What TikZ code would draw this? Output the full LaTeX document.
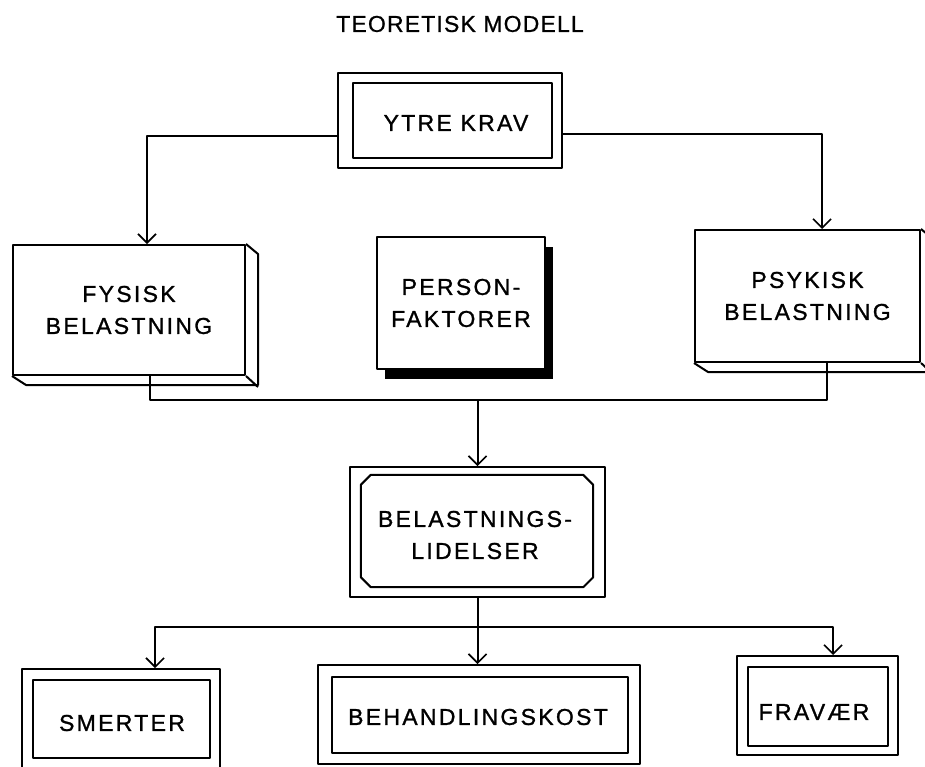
\documentclass[tikz,border=0pt]{standalone}
\usepackage{fontspec}
\setmainfont{Liberation Sans}
\newfontfamily\boxfont[LetterSpace=10,FakeBold=1.1]{Liberation Sans}
\newfontfamily\headfont[LetterSpace=5,FakeBold=0.8]{Liberation Sans}
\usetikzlibrary{arrows.meta,calc,shadows}

\begin{document}
\begin{tikzpicture}[x=1pt,y=-1pt,
  ln/.style={line width=2pt, line join=round},
  arr/.style={ln, -{Straight Barb[length=9pt,width=18pt,line width=1.6pt]}},
  frame/.style={ln, draw, rectangle, inner sep=0pt},
  txt/.style={font=\boxfont\fontsize{23}{32}\selectfont, align=center, inner sep=0pt},
]
\useasboundingbox (0,0) rectangle (925,766);
\clip (0,0) rectangle (925,766);
\fill[white] (0,0) rectangle (925,766);

% heading
\node[font=\headfont\fontsize{23}{30}\selectfont, inner sep=0pt] (title) at (460,24) {TEORETISK MODELL};

% external demands: double frame
\node[frame, minimum width=224pt, minimum height=95pt] (ytre) at (450,120.5) {};
\node[frame, minimum width=199pt, minimum height=75pt] (ytrein) at (452.5,120.5) {};
\node[txt] (ytretxt) at (456,123) {YTRE KRAV};

% physical load: box with depth
\node[frame, txt, minimum width=232pt, minimum height=130pt] (fys) at (129,310) {FYSISK\\BELASTNING};
\draw[ln] (fys.north east) -- ++(12,10) -- ++(0,131) -- ++(-232,0) -- (fys.south west);
\draw[ln] (fys.south east) -- ++(12,11);

% personal factors: box with solid shadow
\node[frame, txt, fill=white, minimum width=168pt, minimum height=132pt,
  drop shadow={shadow xshift=8pt, shadow yshift=-10pt, opacity=1, fill=black, draw=none}]
  (pers) at (461,303) {PERSON-\\FAKTORER};

% psychological load: box with depth
\node[frame, txt, minimum width=225pt, minimum height=132pt] (psy) at (807.5,296) {PSYKISK\\BELASTNING};
\draw[ln] (psy.north east) -- ++(12,10) -- ++(0,133) -- ++(-225,0) -- (psy.south west);
\draw[ln] (psy.south east) -- ++(12,11);

% strain disorders: frame around a chamfered box
\node[frame, minimum width=255pt, minimum height=130pt] (bel) at (477.5,532) {};
\node[inner sep=0pt, minimum width=232pt, minimum height=112pt] (belin) at (477,531) {};
\draw[ln] ($(belin.north west)+(10,0)$) -- ($(belin.north east)+(-10,0)$)
  -- ($(belin.north east)+(0,10)$) -- ($(belin.south east)+(0,-10)$)
  -- ($(belin.south east)+(-10,0)$) -- ($(belin.south west)+(10,0)$)
  -- ($(belin.south west)+(0,-10)$) -- ($(belin.north west)+(0,10)$) -- cycle;
\node[txt] (beltxt) at (475,535) {BELASTNINGS-\\LIDELSER};

% outcomes: double frames
\node[frame, minimum width=198pt, minimum height=106pt] (smer) at (121,722) {};
\node[frame, minimum width=177pt, minimum height=78pt] (smerin) at (121.5,719) {};
\node[txt] (smertxt) at (122,723) {SMERTER};

\node[frame, minimum width=322pt, minimum height=99pt] (beh) at (479,714.5) {};
\node[frame, minimum width=296pt, minimum height=76pt] (behin) at (480,715) {};
\node[txt] (behtxt) at (478,717) {BEHANDLINGSKOST};

\node[frame, minimum width=161pt, minimum height=99pt] (frav) at (817.5,705.5) {};
\node[frame, minimum width=140pt, minimum height=79pt] (fravin) at (818,706.5) {};
\node[txt] (fravtxt) at (814,712) {FRAVÆR};

% connectors
\coordinate (ytreL) at ($(ytre.west)+(0,15.5)$);
\coordinate (ytreR) at ($(ytre.east)+(0,13)$);
\draw[arr] (ytreL) -| ($(fys.north)+(18,0)$);
\draw[arr] (ytreR) -| ($(psy.north)+(14.5,0)$);

\coordinate (junA) at (477.5,400);
\draw[ln] ($(fys.south)+(21,0)$) |- (junA) -| ($(psy.south)+(19.5,0)$);
\draw[arr] (junA) -- (bel.north);

\coordinate (junB) at (477.5,627);
\draw[ln] (bel.south) -- (junB);
\draw[arr] (junB) -| ($(smer.north)+(34,0)$);
\draw[arr] (junB) -| ($(frav.north)+(15.5,0)$);
\draw[arr] (junB) -- (junB |- beh.north);
\end{tikzpicture}
\end{document}
